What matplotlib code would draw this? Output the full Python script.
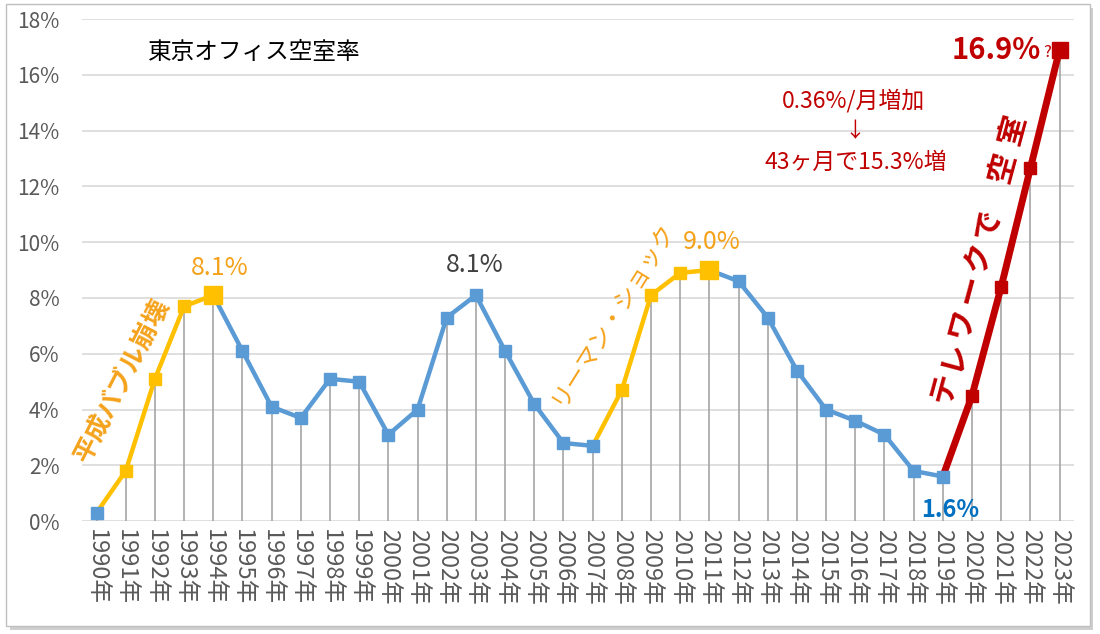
import numpy as np
import matplotlib
matplotlib.use("Agg")
import matplotlib.pyplot as plt
from matplotlib.patches import Rectangle

plt.rcParams["font.family"] = ["Noto Sans CJK JP", "DejaVu Sans"]

# DATA

years = list(range(1990, 2024))

vacancy = [
    0.3, 1.8, 5.1, 7.7, 8.1, 6.1, 4.1, 3.7, 5.1, 5.0,
    3.1, 4.0, 7.3, 8.1, 6.1, 4.2, 2.8, 2.7, 4.7, 8.1,
    8.9, 9.0, 8.6, 7.3, 5.4, 4.0, 3.6, 3.1, 1.8, 1.6,
    4.5, 8.4, 12.65, 16.9
]

year_labels = [f"{y}年" for y in years]

y_ticks = [0, 2, 4, 6, 8, 10, 12, 14, 16, 18]
y_tick_labels = [f"{v}%" for v in y_ticks]

BLUE = "#5B9BD5"
YELLOW = "#FFC000"
RED = "#C00000"
ORANGE_TXT = "#F5A21B"

x = list(range(len(years)))

def idx(y):
    return years.index(y)

# FIGURE

fig = plt.figure(figsize=(11, 6.34), dpi=100)

# frame with shadow
fig.patches.append(Rectangle((0.0090, 0.0063), 0.985, 0.981,
                             transform=fig.transFigure, facecolor="#CFCFCF",
                             edgecolor="none", zorder=-3))
fig.patches.append(Rectangle((0.0055, 0.0126), 0.985, 0.981,
                             transform=fig.transFigure, facecolor="white",
                             edgecolor="#BFBFBF", linewidth=1, zorder=-2))

ax = fig.add_axes([0.0745, 0.178, 0.902, 0.792])
ax.set_facecolor("none")
ax.set_zorder(1)

ax.set_xlim(-0.5, len(years) - 0.5)
ax.set_ylim(0, 18)

for v in y_ticks:
    ax.axhline(v, color="#D9D9D9", lw=1.2, zorder=0)

# drop lines
ax.vlines(x, 0, vacancy, color="#A6A6A6", lw=1.2, zorder=1)

# blue segments
for a, b in [(1994, 2007), (2011, 2019)]:
    s = slice(idx(a), idx(b) + 1)
    ax.plot(x[s], vacancy[s], color=BLUE, lw=3.2, zorder=2)

# yellow segments
for a, b in [(1990, 1994), (2007, 2011)]:
    s = slice(idx(a), idx(b) + 1)
    ax.plot(x[s], vacancy[s], color=YELLOW, lw=3.2, zorder=3)

# red segment
s = slice(idx(2019), idx(2023) + 1)
ax.plot(x[s], vacancy[s], color=RED, lw=5, zorder=3)

# markers
blue_years = [1990] + list(range(1995, 2008)) + list(range(2012, 2020))
yellow_years = [1991, 1992, 1993, 2008, 2009, 2010]
yellow_big = [1994, 2011]
red_years = [2020, 2021, 2022]
red_big = [2023]

def mark(ys, color, size):
    ax.plot([idx(y) for y in ys], [vacancy[idx(y)] for y in ys],
            linestyle="none", marker="s", markersize=size,
            color=color, zorder=4)

mark(blue_years, BLUE, 9)
mark(yellow_years, YELLOW, 9)
mark(yellow_big, YELLOW, 13)
mark(red_years, RED, 9)
mark(red_big, RED, 11)

# axes styling
for sp in ax.spines.values():
    sp.set_visible(False)

ax.set_yticks(y_ticks)
ax.set_yticklabels(y_tick_labels)
ax.set_xticks(x)
ax.set_xticklabels(year_labels, rotation=-90)
ax.tick_params(axis="y", length=0, pad=16, labelsize=15, labelcolor="#595959")
ax.tick_params(axis="x", length=0, pad=6, labelsize=17, labelcolor="#595959")

# TEXT

ax.text(5.4, 16.8, "東京オフィス空室率", fontsize=17, color="black",
        ha="center", va="center")

ax.text(4.22, 9.07, "8.1%", fontsize=18, color=ORANGE_TXT, ha="center", va="center")
ax.text(12.97, 9.17, "8.1%", fontsize=18, color="#404040", ha="center", va="center")
ax.text(21.1, 10.0, "9.0%", fontsize=18, color=ORANGE_TXT, ha="center", va="center")
ax.text(29.26, 0.39, "1.6%", fontsize=17, color="#0070C0", fontweight="bold",
        ha="center", va="center")

ax.text(32.35, 16.88, "16.9%", fontsize=21, color=RED, fontweight="bold",
        ha="right", va="center")
ax.text(32.45, 16.8, "?", fontsize=12, color=RED, ha="left", va="center")

ax.text(25.93, 15.09, "0.36%/月増加", fontsize=16.5, color=RED, ha="center", va="center")
ax.text(26.0, 13.98, "↓", fontsize=15, color=RED, ha="center", va="center")
ax.text(26.0, 12.87, "43ヶ月で15.3%増", fontsize=16.5, color=RED, ha="center", va="center")

ax.text(0.86, 5.05, "平成バブル崩壊", fontsize=18.5, color=ORANGE_TXT, fontweight="bold",
        rotation=63, ha="center", va="center", rotation_mode="anchor")
ax.text(17.7, 7.45, "リーマン・ショック", fontsize=17, color=ORANGE_TXT,
        rotation=58, ha="center", va="center", rotation_mode="anchor")

# spaced red text along the rising line
tele_chars = "テレワークで空室"
tele_steps = [0, 1, 2, 3, 4, 5, 6.7, 7.85]
ang = np.deg2rad(75)
pitch = 24.5
for ch, k in zip(tele_chars, tele_steps):
    ax.annotate(ch, xy=(29.02, 4.77), xytext=(k * pitch * np.cos(ang), k * pitch * np.sin(ang)),
                textcoords="offset points", fontsize=21.5, color=RED, fontweight="bold",
                rotation=75, ha="center", va="center", rotation_mode="anchor")

fig.savefig("out.png", dpi=100)
